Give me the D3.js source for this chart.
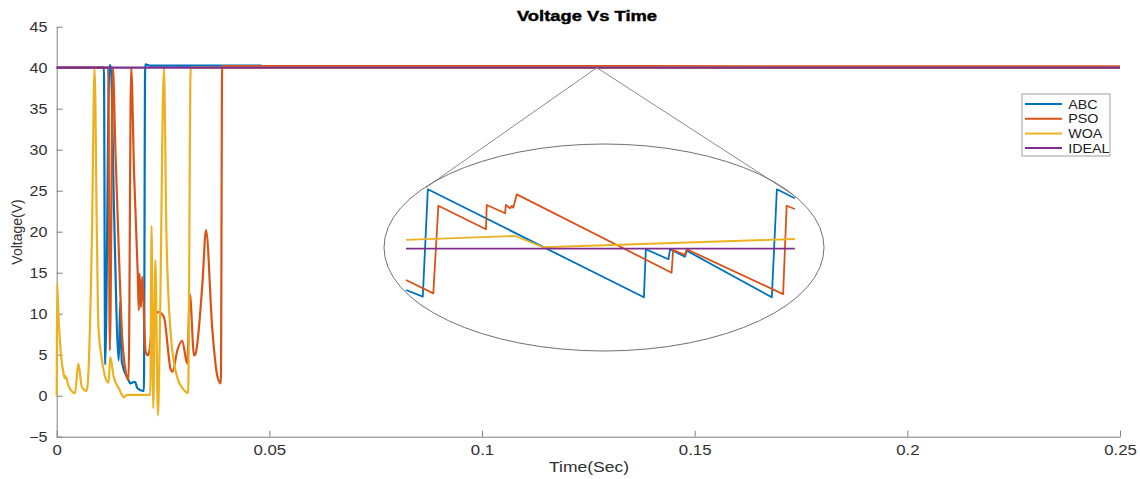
<!DOCTYPE html>
<html>
<head>
<meta charset="utf-8">
<script src="https://cdn.jsdelivr.net/npm/d3@7"></script>
<style>
  body { margin: 0; background: #fff; }
  svg { display: block; font-family: "Liberation Sans", Arial, sans-serif; }
</style>
</head>
<body>
<div id="chart"></div>
<script>
// series: [time (s), voltage (V)]
const abc = [[0,40],[0.0111,40],[0.0114,3.8],[0.0124,40.3],[0.0127,40.3],[0.0135,22],[0.0146,4.3],
  [0.01495,11.5],[0.0153,4.2],[0.0169,1.9],[0.0173,1.5],[0.0184,1.7],[0.0190,0.9],[0.0202,0.6],
  [0.0205,0.6],[0.0208,40.4],[0.022,40.25],[0.048,40.25],[0.0485,40.05],[0.25,40.05]];

const pso = [[0,40],[0.0121,40],[0.0125,5.5],[0.0132,40],[0.0138,30],[0.0146,17.7],[0.01535,7.6],
  [0.0165,2.3],[0.0169,1.9],[0.0175,40],[0.0182,27],[0.01905,14.9],[0.0193,10.4],[0.0195,14.9],
  [0.0198,10.8],[0.0201,14.5],[0.0209,5.4],[0.0215,4.9],[0.0228,9.6],[0.0240,10.2],[0.0252,9.6],
  [0.0268,3.2],[0.0272,2.9],[0.0284,5.6],[0.0295,6.7],[0.0307,3.9],[0.0313,12.4],[0.0323,4.9],
  [0.0327,5.2],[0.0343,14],[0.0351,20.2],[0.0366,8],[0.0378,2.3],[0.0386,1.5],[0.0389,40.2],
  [0.25,40.15]];

const woa = [[0,0],[0.0001,13.7],[0.0004,10],[0.001,5],[0.0017,2.5],[0.0019,2.1],[0.0021,2.4],
  [0.0027,1.3],[0.0043,0.3],[0.0051,3.9],[0.0059,1.1],[0.0069,0.6],[0.0072,1.0],[0.0083,20],
  [0.0089,40],[0.00945,19.5],[0.0098,8.5],[0.0106,4.5],[0.0114,2.3],[0.0122,1.6],[0.0126,4.7],
  [0.0134,2.3],[0.0146,0.9],[0.01535,0.1],[0.0158,-0.2],[0.0165,0.1],[0.022,0.1],[0.0223,20.7],
  [0.0227,-1.5],[0.0232,16.5],[0.0238,-2.4],[0.02425,7.6],[0.0252,40],[0.0258,19.7],
  [0.0268,7.6],[0.0283,2.3],[0.0303,0.5],[0.0309,0.3],[0.0315,40],[0.25,40]];

const ideal = [[0,40],[0.25,40]];

// zoomed inset: [position 0-100 across the inset, voltage]
const abcZoom = [[0,39.656],[4.3,39.6],[5.6,40.495],[61.0,39.595],[61.5,39.995],[67.3,39.912],
  [67.7,39.995],[71.5,39.933],[72.0,39.983],[93.8,39.595],[95.1,40.495],[99.7,40.42]];
const psoZoom = [[0,39.739],[7.0,39.628],[8.3,40.358],[20.5,40.162],[20.7,40.364],[25.4,40.295],
  [25.6,40.364],[26.7,40.337],[27.1,40.356],[27.5,40.342],[28.4,40.453],[68.1,39.8],[68.5,39.989],
  [71.5,39.948],[72.0,39.995],[96.7,39.622],[97.6,40.358],[99.7,40.331]];
const woaZoom = [[0,40.073],[28.0,40.106],[35.2,40.012],[99.7,40.081]];
const idealZoom = [[0,40],[99.7,40]];

const series = [
  { name: 'ABC', color: '#0072BD', data: abc, zoom: abcZoom },
  { name: 'PSO', color: '#D95319', data: pso, zoom: psoZoom },
  { name: 'WOA', color: '#EDB120', data: woa, zoom: woaZoom },
  { name: 'IDEAL', color: '#7E2F8E', data: ideal, zoom: idealZoom }
];

const xTicks = [0, 0.05, 0.1, 0.15, 0.2, 0.25];
const yTicks = [-5, 0, 5, 10, 15, 20, 25, 30, 35, 40, 45];
const zoomAt = [0.127, 40];               // point of the main curve that is magnified
const connectorEnds = [[5.1, 40.51], [99.2, 40.45]];

const W = 1140, H = 479;
const svg = d3.select('#chart').append('svg').attr('width', W).attr('height', H);

const x = d3.scaleLinear().domain([0, 0.25]).range([56.7, 1120]);
const y = d3.scaleLinear().domain([-5, 45]).range([436.7, 26.7]);

const axisColor = '#808080', textColor = '#303030';

// axes (MATLAB style, ticks inward, no box)
const gx = svg.append('g')
  .attr('transform', `translate(0,${y(-5)})`)
  .call(d3.axisBottom(x).tickValues(xTicks).tickFormat(d => d3.format('')(+d.toFixed(2)))
    .tickSizeInner(-6).tickSizeOuter(0).tickPadding(8));
const gy = svg.append('g')
  .attr('transform', `translate(${x(0)},0)`)
  .call(d3.axisLeft(y).tickValues(yTicks).tickSizeInner(-6).tickSizeOuter(0).tickPadding(8));

[gx, gy].forEach(g => {
  g.select('.domain').attr('stroke', axisColor);
  g.selectAll('.tick line').attr('stroke', axisColor);
  g.selectAll('.tick text').attr('fill', textColor).attr('font-size', 14)
    .attr('font-family', '"Liberation Sans", Arial, sans-serif');
});
gx.selectAll('.tick text').attr('transform', 'scale(1.2,1)');
gy.selectAll('.tick text').attr('transform', 'scale(1.15,1)');

// main curves
const line = d3.line().x(d => x(d[0])).y(d => y(d[1])).curve(d3.curveMonotoneX);
series.forEach(s => {
  svg.append('path')
    .datum(s.data)
    .attr('d', line)
    .attr('fill', 'none')
    .attr('stroke', s.color)
    .attr('stroke-width', 2.2)
    .attr('stroke-linejoin', 'round');
});

// magnified inset
const ix = d3.scaleLinear().domain([0, 100]).range([406, 796]);
const iy = d3.scaleLinear().domain([39.5, 40.5]).range([308.7, 188.7]);

connectorEnds.forEach(p => {
  svg.append('line')
    .attr('x1', x(zoomAt[0])).attr('y1', y(zoomAt[1]))
    .attr('x2', ix(p[0])).attr('y2', iy(p[1]))
    .attr('stroke', '#8a8a8a').attr('stroke-width', 1);
});

svg.append('ellipse')
  .attr('cx', 604).attr('cy', 247.5).attr('rx', 220).attr('ry', 103.5)
  .attr('fill', 'none').attr('stroke', '#707070').attr('stroke-width', 1);

const zline = d3.line().x(d => ix(d[0])).y(d => iy(d[1]));
series.forEach(s => {
  svg.append('path')
    .datum(s.zoom)
    .attr('d', zline)
    .attr('fill', 'none')
    .attr('stroke', s.color)
    .attr('stroke-width', 1.8)
    .attr('stroke-linejoin', 'round');
});

// title and axis labels
svg.append('text')
  .attr('x', 587).attr('y', 21)
  .attr('text-anchor', 'middle')
  .attr('font-size', 14).attr('font-weight', 'bold')
  .attr('fill', '#000')
  .attr('stroke', '#000').attr('stroke-width', 0.4)
  .attr('textLength', 140).attr('lengthAdjust', 'spacingAndGlyphs')
  .text('Voltage Vs Time');

svg.append('text')
  .attr('transform', 'translate(22,232) rotate(-90)')
  .attr('text-anchor', 'middle')
  .attr('font-size', 14)
  .attr('fill', textColor)
  .text('Voltage(V)');

svg.append('text')
  .attr('transform', 'translate(589,472) scale(1.25,1)')
  .attr('text-anchor', 'middle')
  .attr('font-size', 14)
  .attr('fill', textColor)
  .text('Time(Sec)');

// legend
const legend = svg.append('g').attr('transform', 'translate(1022,94)');
legend.append('rect')
  .attr('width', 88).attr('height', 62)
  .attr('fill', '#fff').attr('stroke', '#a0a0a0').attr('stroke-width', 1);

const item = legend.selectAll('.item')
  .data(series)
  .enter()
  .append('g')
  .attr('class', 'item')
  .attr('transform', (d, i) => `translate(0,${10 + i * 14.7})`);

item.append('line')
  .attr('x1', 3).attr('x2', 40)
  .attr('stroke', d => d.color).attr('stroke-width', 2);

item.append('text')
  .attr('x', 42).attr('dy', '0.36em')
  .attr('font-size', 13)
  .attr('fill', '#202020')
  .attr('transform', 'scale(1.1,1)')
  .text(d => d.name);
</script>
</body>
</html>
